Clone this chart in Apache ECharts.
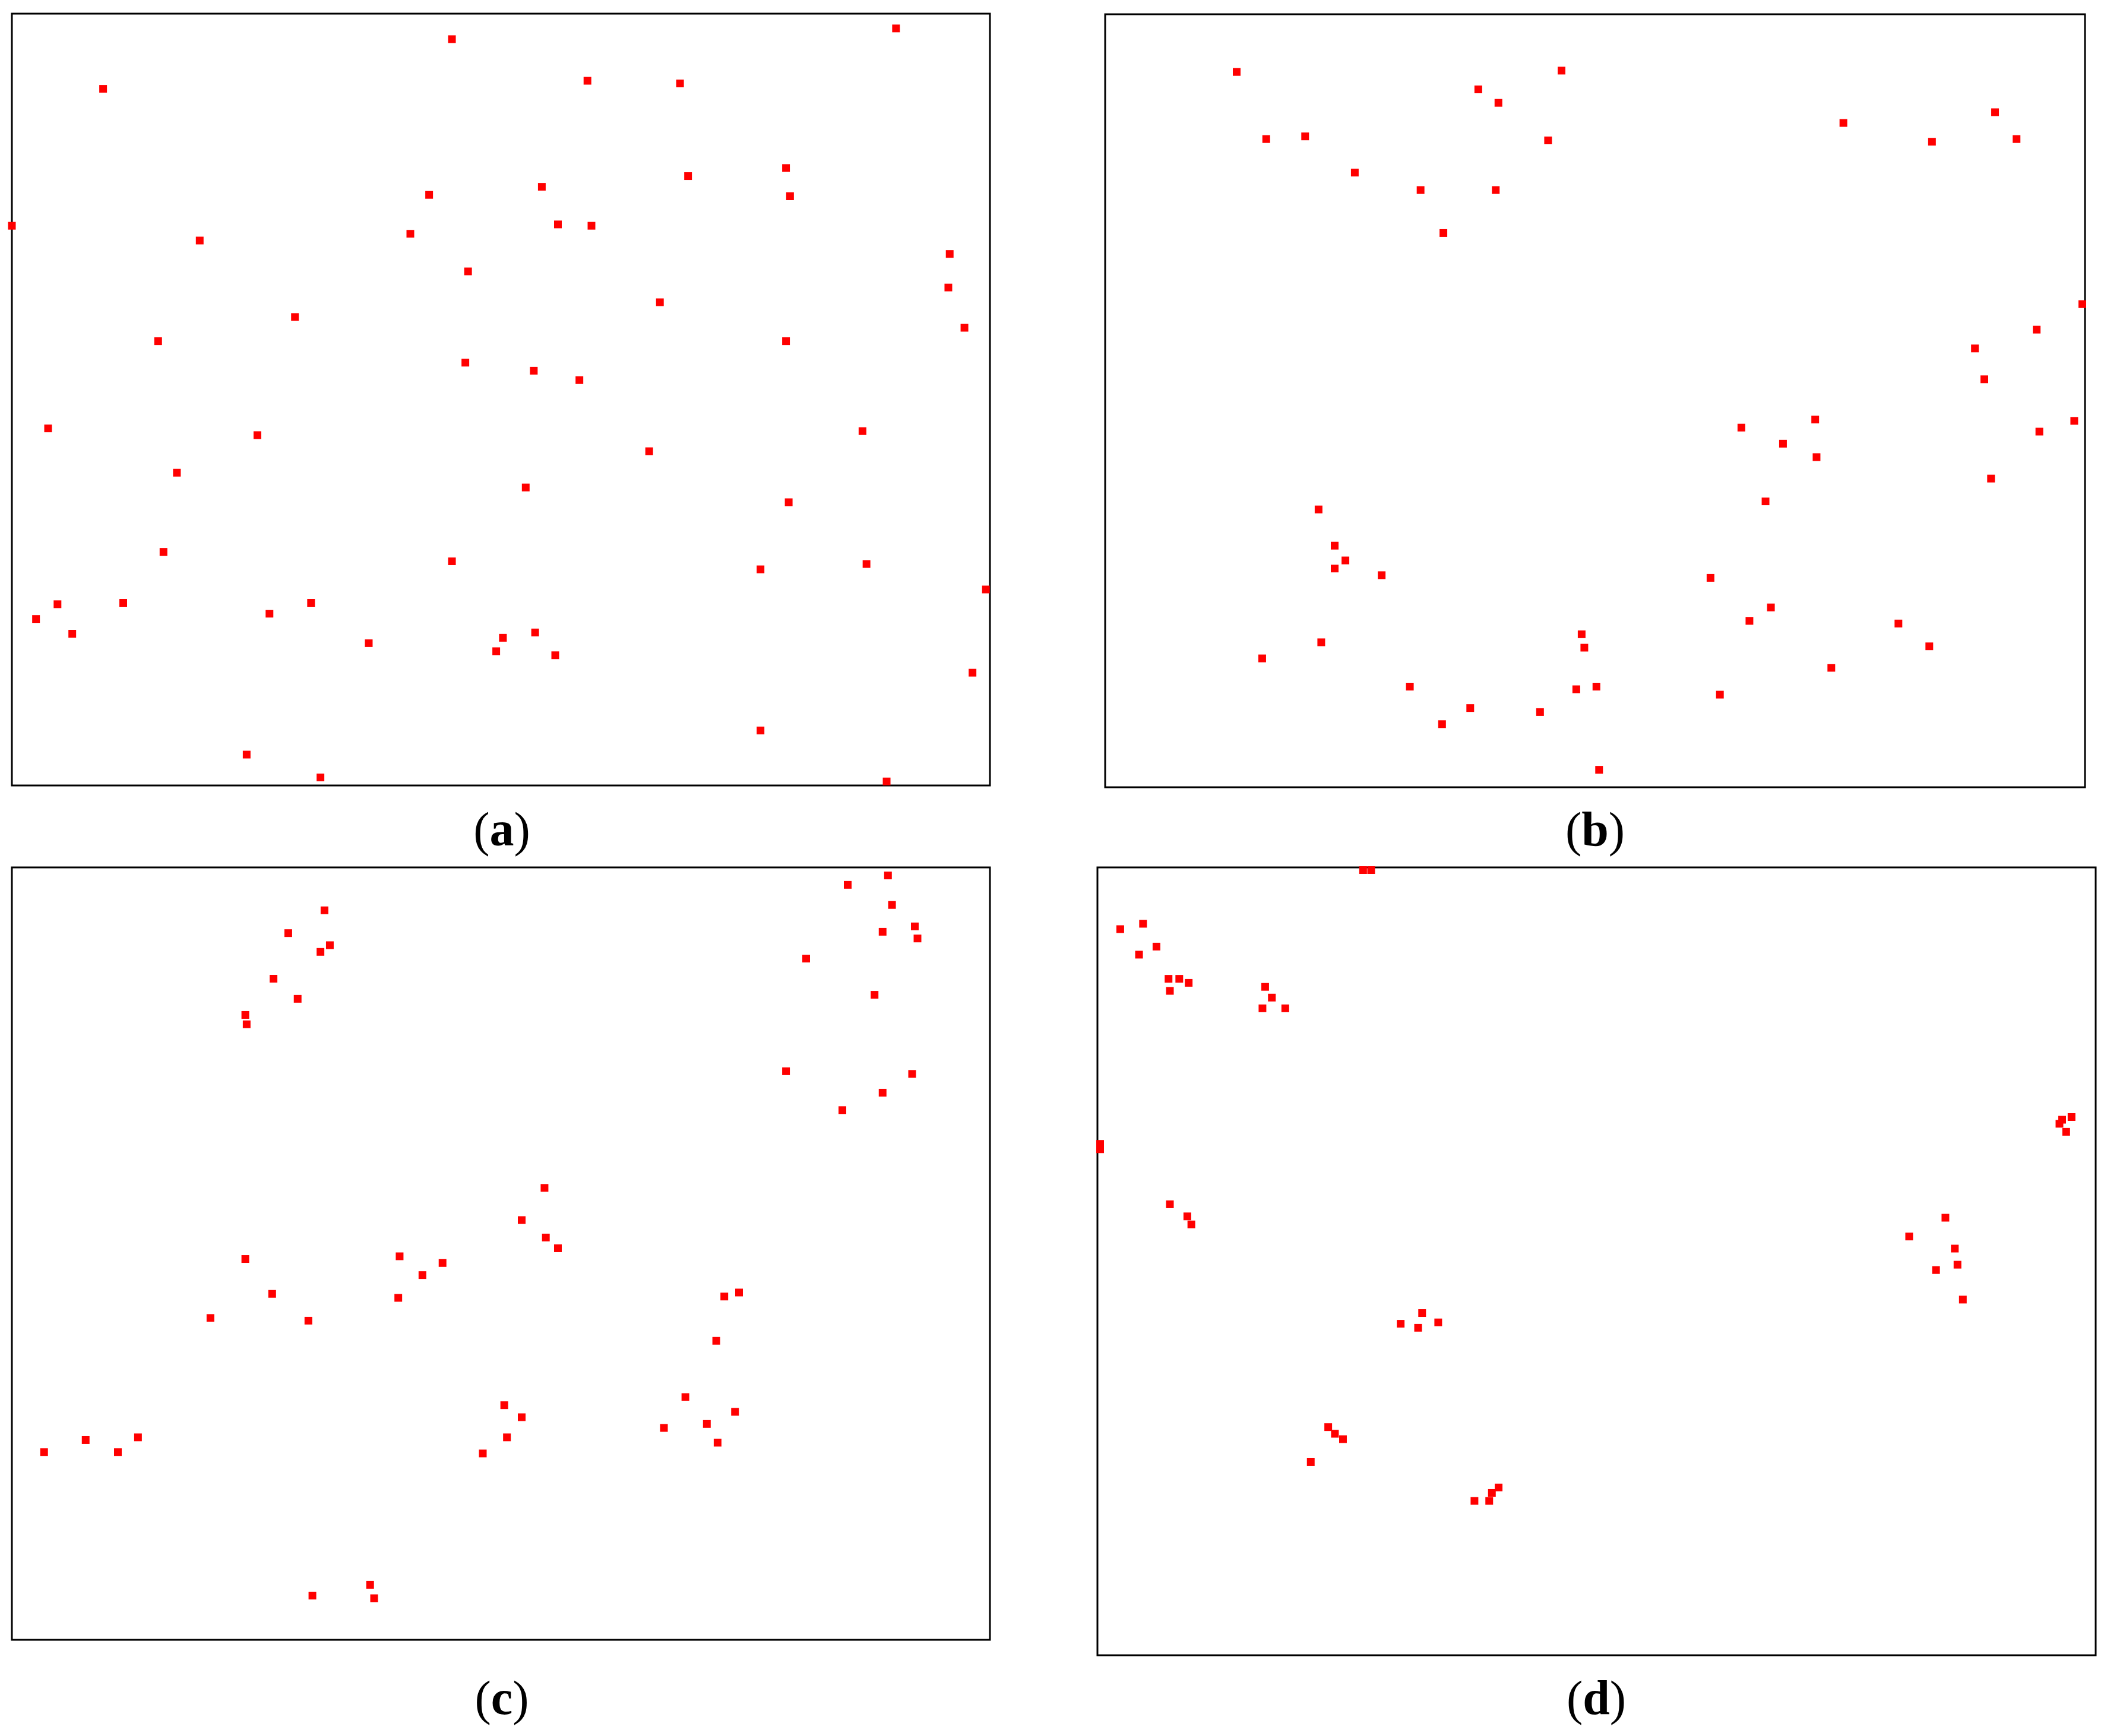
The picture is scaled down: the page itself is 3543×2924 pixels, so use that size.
<!DOCTYPE html>
<html>
<head>
<meta charset="UTF-8">
<title>scatter panels</title>
<script src="https://cdn.jsdelivr.net/npm/echarts@6/dist/echarts.min.js"></script>
<style>
body {
    margin: 0;
    padding: 0;
    background: #fff;
}
#main {
    width: 3543px;
    height: 2924px;
}
</style>
</head>
<body>
<div id="main"></div>
<script>
// point positions, panel-local units (x to the right, y downward)
var panelA = [[328,19],[659,11],[68,56],[429,50],[498,52],[0,158],[140,169],[311,135],[395,129],[504,121],
    [577,115],[580,136],[297,164],[407,157],[432,158],[340,192],[699,179],[698,204],[710,234],[211,226],
    [483,215],[109,244],[577,244],[338,260],[389,266],[423,273],[27,309],[183,314],[634,311],[475,326],
    [123,342],[383,353],[579,364],[113,401],[328,408],[637,410],[558,414],[726,429],[18,451],[34,440],
    [45,462],[83,439],[192,447],[223,439],[266,469],[366,465],[361,475],[390,461],[405,478],[716,491],
    [558,534],[175,552],[230,569],[652,572]];
var panelB = [[98,43],[120,93],[149,91],[186,118],[235,131],[252,163],[278,56],[293,66],[291,131],[330,94],
    [340,42],[550,81],[616,95],[663,73],[679,93],[728,216],[694,235],[648,249],[655,272],[696,311],
    [722,303],[660,346],[474,308],[505,320],[529,302],[530,330],[492,363],[159,369],[171,396],[179,407],
    [171,413],[206,418],[117,480],[161,468],[451,420],[480,452],[496,442],[591,454],[614,471],[541,487],
    [355,462],[357,472],[227,501],[251,529],[272,517],[324,520],[351,503],[366,501],[458,507],[368,563]];
var panelC = [[233,32],[206,49],[230,63],[237,58],[195,83],[213,98],[174,110],[175,117],[623,13],[653,6],
    [656,28],[649,48],[673,44],[675,53],[592,68],[643,95],[577,152],[619,181],[649,168],[671,154],
    [397,239],[380,263],[398,276],[407,284],[174,292],[289,290],[321,295],[306,304],[288,321],[194,318],
    [148,336],[221,338],[531,320],[542,317],[525,353],[367,401],[380,410],[369,425],[351,437],[502,395],
    [486,418],[518,415],[539,406],[526,429],[24,436],[55,427],[79,436],[94,425],[224,543],[267,535],
    [270,545]];
var panelD = [[198,2],[204,2],[17,46],[34,42],[31,65],[44,59],[53,83],[61,83],[68,86],[54,92],
    [125,89],[130,97],[123,105],[140,105],[2,206],[2,210],[54,251],[67,260],[70,266],[226,340],
    [239,343],[242,332],[254,339],[159,443],[172,417],[177,422],[183,426],[281,472],[292,472],[294,466],
    [299,462],[605,275],[632,261],[639,284],[625,300],[641,296],[645,322],[719,188],[726,186],[722,197],
    [717,191]];
var panelNames = ['a', 'b', 'c', 'd'];
var panelExtent = [[729, 575], [730, 576], [729, 576], [744, 587]];

var panels = [panelA, panelB, panelC, panelD];
var grids = [
    {left: 20, top: 23, width: 1647, height: 1300},
    {left: 1861, top: 24, width: 1650, height: 1302},
    {left: 20, top: 1461, width: 1647, height: 1301},
    {left: 1848, top: 1461, width: 1681, height: 1327}
];
var labelPos = [[845, 1403], [2686, 1403], [845, 2866], [2688, 2866]];

var chart = echarts.init(document.getElementById('main'));

var option = {
    animation: false,
    backgroundColor: '#fff',
    grid: [],
    xAxis: [],
    yAxis: [],
    series: [],
    graphic: []
};

for (var i = 0; i < 4; i++) {
    var g = grids[i];
    option.grid.push({
        left: g.left, top: g.top, width: g.width, height: g.height,
        show: true,
        borderColor: '#000',
        borderWidth: 3,
        backgroundColor: '#fff'
    });
    option.xAxis.push({
        type: 'value', gridIndex: i, min: 0, max: panelExtent[i][0], show: false
    });
    option.yAxis.push({
        type: 'value', gridIndex: i, min: 0, max: panelExtent[i][1], inverse: true, show: false
    });
    option.series.push({
        type: 'scatter',
        xAxisIndex: i,
        yAxisIndex: i,
        data: panels[i],
        symbol: 'rect',
        symbolSize: 13,
        clip: true,
        itemStyle: {color: '#ff0000', opacity: 1}
    });
    option.graphic.push({
        type: 'text',
        x: labelPos[i][0],
        y: labelPos[i][1],
        style: {
            text: '{p|(}{b|' + panelNames[i] + '}{p|)}',
            align: 'center',
            verticalAlign: 'middle',
            textAlign: 'center',
            textVerticalAlign: 'middle',
            rich: {
                p: {fontFamily: 'Liberation Serif', fontSize: 82, fill: '#000', color: '#000'},
                b: {fontFamily: 'Liberation Serif', fontSize: 82, fontWeight: 'bold', fill: '#000', color: '#000'}
            }
        }
    });
}

chart.setOption(option);
</script>
</body>
</html>
